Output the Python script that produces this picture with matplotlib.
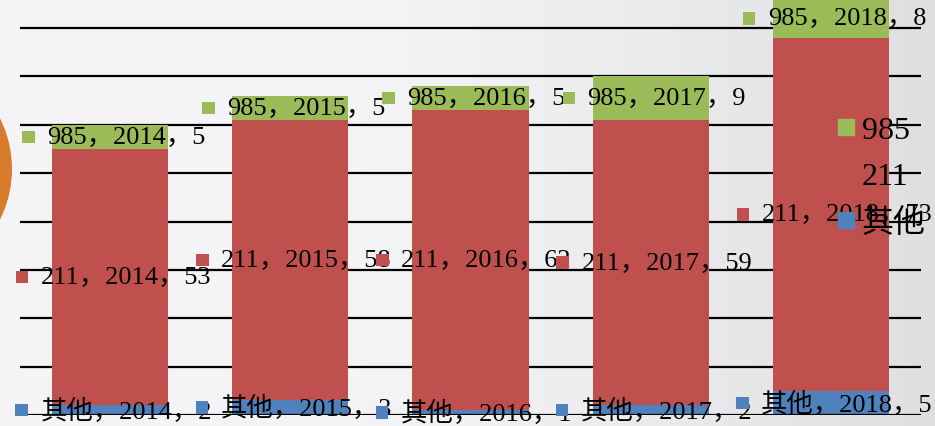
import matplotlib.pyplot as plt
import numpy as np
from matplotlib.lines import Line2D
from matplotlib.offsetbox import AnnotationBbox, DrawingArea, HPacker, TextArea
from matplotlib.patches import Circle, Rectangle

years = ["2014", "2015", "2016", "2017", "2018"]
other = [2, 3, 1, 2, 5]
v211 = [53, 58, 62, 59, 73]
v985 = [5, 5, 5, 9, 8]

series = [("其他", other, "#4f81bd"), ("211", v211, "#c0504d"), ("985", v985, "#9bbb59")]
FAMILY = ["Liberation Serif", "Noto Sans CJK SC"]

W, H = 935, 427
fig = plt.figure(figsize=(W / 100, H / 100), dpi=100)

# background: light grey gradient + orange disc peeking in on the left
bg = fig.add_axes([0, 0, 1, 1], zorder=-2)
xs = np.linspace(0, 1, 400)
shade = 0.957 - 0.085 * np.clip((xs - 0.35) / 0.65, 0, 1) ** 1.3
img = np.stack([shade, shade + 0.002, shade + 0.008], axis=-1)[None, :, :]
bg.imshow(np.clip(img, 0, 1), extent=[0, W, H, 0], aspect="auto")
bg.add_patch(Circle((-101, 170), 113, fc="#d97b2c", ec="none"))
bg.set_xlim(0, W)
bg.set_ylim(H, 0)
bg.axis("off")

ax = fig.add_axes([20 / W, 11 / H, 901 / W, 416 / H])
ax.patch.set_alpha(0)
x = np.arange(len(years))
ax.set_xlim(-0.5, len(years) - 0.5)
ax.set_ylim(0, 86)

for g in range(10, 90, 10):
    ax.axhline(g, color="black", lw=1.6, zorder=0)
ax.axhline(0, color="black", lw=1.6, zorder=4)

bottom = np.zeros(len(years))
for name, vals, col in series:
    ax.bar(x, vals, bottom=bottom, width=0.645, color=col, zorder=2)
    for i, v in enumerate(vals):
        da = DrawingArea(9, 9)
        da.add_artist(Rectangle((0, 0), 9, 9, fc=col, ec="none"))
        ta = TextArea(f"{name}，{years[i]}，{v}",
                      textprops=dict(fontsize=19, family=FAMILY, color="black"))
        box = HPacker(children=[da, ta], pad=0, sep=9, align="center")
        ab = AnnotationBbox(box, (x[i] + 0.02, bottom[i] + v / 2), frameon=False,
                            box_alignment=(0.5, 0.5), pad=0, zorder=5)
        ax.add_artist(ab)
    bottom += np.array(vals)

handles = [Line2D([], [], marker="s", ls="", color=c, ms=11) for _, _, c in series[::-1]]
labels = [n for n, _, _ in series[::-1]]
ax.legend(handles, labels, loc="upper left", bbox_to_anchor=(820 / W, 1 - 101 / H),
          bbox_transform=fig.transFigure, frameon=False, handlelength=0.6,
          handletextpad=0.2, labelspacing=0.52, borderpad=0,
          prop={"family": FAMILY, "size": 23})

ax.set_xticks([])
ax.set_yticks([])
for s in ax.spines.values():
    s.set_visible(False)

fig.savefig("out.png", dpi=100)
